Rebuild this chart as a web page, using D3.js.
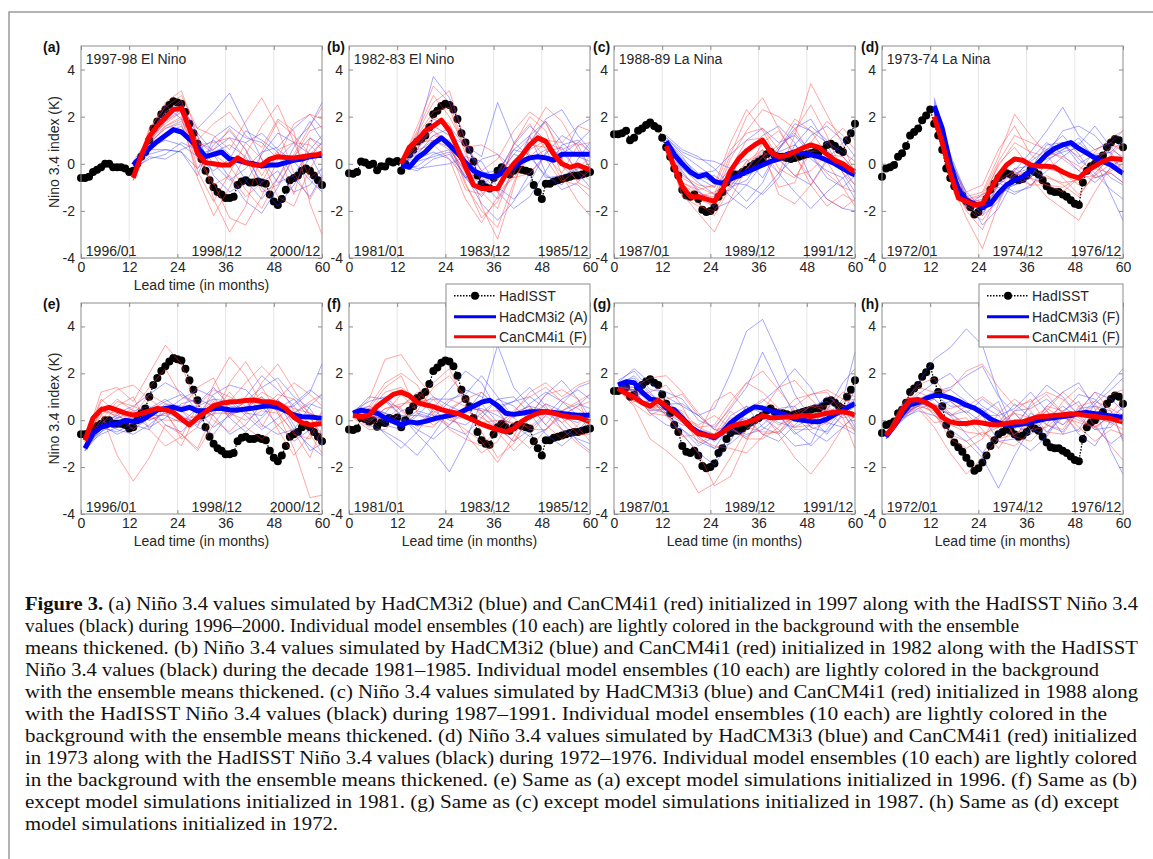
<!DOCTYPE html>
<html>
<head>
<style>
body { margin: 0; background: #fff; }
svg { display: block; font-family: "Liberation Sans", Arial, sans-serif; }
</style>
</head>
<body>
<svg width="1153" height="859"></svg>
<script src="https://d3js.org/d3.v7.min.js"></script>
<script>
// ---- data ----
var xTicks = [0, 12, 24, 36, 48, 60];
var yTicks = [-4, -2, 0, 2, 4];
var hadMonths = d3.range(0, 61);
var meanMonthsTop = [13,15,17,19,21,23,25,27,29,31,33,35,37,39,41,43,45,47,49,51,53,55,57,59,60];
var meanMonthsBottom = [1,3,5,7,9,11,13,15,17,19,21,23,25,27,29,31,33,35,37,39,41,43,45,47,49,51,53,55,57,59,60];
var ensMonthsTop = [13,17,21,25,29,33,37,41,45,49,53,57,60];
var ensMonthsBottom = [1,5,9,13,17,21,25,29,33,37,41,45,49,53,57,60];

var titles = ["1997-98 El Nino", "1982-83 El Nino", "1988-89 La Nina", "1973-74 La Nina"];
var datesCol1 = ["1996/01", "1998/12", "2000/12"];
var datesCol2 = ["1981/01", "1983/12", "1985/12"];
var datesCol3 = ["1987/01", "1989/12", "1991/12"];
var datesCol4 = ["1972/01", "1974/12", "1976/12"];

// HadISST Nino 3.4 (monthly, lead 0..60)
var hadisst1996 = [-0.6,-0.6,-0.55,-0.35,-0.25,-0.15,0.0,0.0,-0.15,-0.15,-0.15,-0.2,-0.35,-0.3,0.0,0.3,0.5,1.0,1.5,1.8,2.1,2.3,2.5,2.65,2.6,2.55,2.2,1.7,1.3,0.85,0.2,-0.3,-0.7,-1.0,-1.2,-1.3,-1.45,-1.45,-1.4,-0.9,-0.75,-0.7,-0.8,-0.8,-0.75,-0.8,-0.85,-1.3,-1.6,-1.75,-1.5,-1.1,-0.7,-0.6,-0.5,-0.3,-0.2,-0.3,-0.5,-0.7,-0.9];
var hadisst1981 = [-0.4,-0.42,-0.35,0.1,0.05,-0.05,0.0,-0.28,-0.1,-0.12,0.1,0.05,0.12,-0.3,0.0,0.4,0.6,0.95,1.05,1.2,1.55,2.1,2.25,2.45,2.55,2.5,2.3,1.9,1.3,0.9,0.6,0.1,-0.5,-0.85,-1.0,-1.05,-0.6,-0.3,-0.15,-0.3,-0.45,-0.3,-0.2,-0.25,-0.3,-0.35,-0.9,-1.2,-1.5,-0.85,-0.85,-0.75,-0.7,-0.65,-0.6,-0.55,-0.5,-0.5,-0.45,-0.4,-0.35];
var hadisst1987 = [1.25,1.25,1.3,1.4,1.0,1.1,1.4,1.5,1.65,1.75,1.6,1.5,1.1,0.7,0.3,-0.2,-0.5,-1.1,-1.35,-1.4,-1.3,-1.5,-1.95,-2.05,-2.0,-1.85,-1.4,-1.2,-0.8,-0.55,-0.45,-0.45,-0.35,-0.25,-0.1,0.0,0.1,0.2,0.4,0.5,0.35,0.3,0.3,0.25,0.2,0.25,0.3,0.35,0.4,0.45,0.5,0.5,0.6,0.8,0.85,0.75,0.6,0.5,1.0,1.3,1.7];
var hadisst1972 = [-0.55,-0.2,-0.15,-0.05,0.3,0.45,0.75,1.2,1.35,1.5,1.85,2.05,2.3,1.7,1.2,0.6,-0.2,-0.6,-0.95,-1.15,-1.35,-1.6,-1.85,-2.15,-2.05,-1.8,-1.5,-1.1,-0.85,-0.6,-0.5,-0.4,-0.45,-0.6,-0.7,-0.65,-0.5,-0.25,-0.35,-0.45,-0.7,-0.95,-1.15,-1.2,-1.2,-1.3,-1.4,-1.55,-1.7,-1.75,-0.8,-0.3,-0.1,0.0,0.2,0.35,0.7,0.9,1.05,1.0,0.7];

// ensemble means (top row: meanMonthsTop, bottom row: meanMonthsBottom)
var blueMeanA = [-0.05,0.3,0.65,0.95,1.2,1.45,1.35,1.05,0.7,0.3,0.4,0.5,0.2,0.15,0.05,0.0,-0.1,-0.05,-0.05,0.05,0.15,0.2,0.3,0.35,0.35];
var redMeanA = [-0.6,0.35,1.15,1.6,1.95,2.3,2.35,1.5,0.45,0.05,0.0,-0.05,-0.05,0.25,0.05,-0.05,-0.05,0.2,0.3,0.27,0.25,0.3,0.35,0.4,0.45];
var blueMeanB = [-0.05,-0.15,0.25,0.5,0.85,1.1,0.8,0.45,0.05,-0.3,-0.45,-0.55,-0.5,-0.3,-0.15,0.1,0.25,0.3,0.25,0.15,0.4,0.4,0.4,0.4,0.4];
var redMeanB = [0.0,0.7,1.0,1.4,1.6,1.85,1.4,0.65,-0.15,-0.9,-1.05,-1.05,-1.05,-0.45,0.0,0.35,0.8,1.1,0.95,0.4,0.0,-0.15,-0.05,-0.2,-0.25];
var blueMeanC = [0.95,0.4,0.0,-0.35,-0.55,-0.45,-0.75,-0.83,-0.65,-0.5,-0.35,-0.2,-0.05,0.1,0.2,0.4,0.5,0.45,0.38,0.3,0.15,0.0,-0.2,-0.4,-0.47];
var redMeanC = [0.75,-0.15,-0.95,-1.4,-1.4,-1.5,-1.6,-1.1,-0.3,0.2,0.55,0.8,1.0,0.5,0.3,0.35,0.5,0.67,0.8,0.7,0.4,0.15,0.0,-0.25,-0.33];
var blueMeanD = [2.45,1.5,0.0,-1.1,-1.55,-1.7,-1.83,-1.7,-1.25,-0.9,-0.7,-0.55,-0.3,0.05,0.4,0.65,0.8,0.9,0.65,0.45,0.25,0.1,-0.05,-0.3,-0.4];
var redMeanD = [2.0,0.9,-0.4,-1.45,-1.6,-1.75,-1.7,-1.1,-0.5,-0.05,0.2,0.15,-0.05,-0.1,-0.1,-0.15,-0.35,-0.5,-0.6,-0.3,-0.1,0.1,0.22,0.2,0.17];
var blueMeanE = [-1.2,-0.55,-0.3,-0.2,-0.14,0.0,-0.05,0.0,0.2,0.43,0.5,0.55,0.45,0.55,0.4,0.4,0.5,0.5,0.45,0.43,0.48,0.52,0.58,0.63,0.55,0.4,0.22,0.15,0.14,0.1,0.07];
var redMeanE = [-0.86,0.1,0.45,0.55,0.43,0.3,0.22,0.28,0.4,0.5,0.45,0.33,0.05,-0.2,0.1,0.35,0.62,0.72,0.78,0.8,0.84,0.86,0.8,0.79,0.72,0.5,0.12,-0.1,-0.2,-0.16,-0.14];
var blueMeanF = [0.29,0.43,0.36,0.3,0.1,-0.05,-0.2,-0.07,-0.12,-0.05,0.05,0.13,0.2,0.28,0.45,0.6,0.77,0.85,0.62,0.3,0.25,0.3,0.36,0.36,0.36,0.33,0.29,0.25,0.21,0.21,0.21];
var redMeanF = [0.21,0.14,0.21,0.6,0.85,1.1,1.2,1.05,0.75,0.66,0.58,0.45,0.36,0.3,0.15,0.0,-0.17,-0.29,-0.4,-0.5,-0.35,-0.05,0.15,0.3,0.36,0.3,0.2,0.14,0.12,0.0,-0.07];
var blueMeanG = [1.5,1.64,1.6,1.2,0.9,0.85,0.52,0.45,0.1,-0.28,-0.52,-0.63,-0.75,-0.5,-0.12,0.15,0.38,0.57,0.52,0.4,0.32,0.22,0.05,0.0,-0.05,-0.07,0.05,0.25,0.42,0.62,0.71];
var redMeanG = [1.36,1.15,0.98,0.75,0.6,0.85,0.6,0.35,0.05,-0.3,-0.58,-0.64,-0.7,-0.52,-0.27,-0.17,-0.1,0.02,0.2,0.1,0.12,0.14,0.15,0.2,0.16,0.22,0.3,0.35,0.36,0.28,0.21];
var blueMeanH = [-0.71,-0.25,0.25,0.66,0.75,0.93,1.05,1.05,0.95,0.82,0.64,0.52,0.3,0.05,-0.1,-0.21,-0.21,-0.16,-0.08,0.0,0.07,0.11,0.16,0.2,0.3,0.33,0.28,0.22,0.18,0.15,0.14];
var redMeanH = [-0.64,-0.25,0.4,0.85,0.88,0.75,0.55,0.12,-0.07,-0.14,-0.14,-0.08,-0.12,-0.18,-0.2,-0.14,-0.08,-0.07,0.05,0.15,0.17,0.2,0.23,0.28,0.25,0.2,0.16,0.12,0.07,-0.03,-0.07];

// individual ensemble members (10 each)
var blueEnsA = [
 [0.0,0.9,1.8,2.3,1.5,2.2,3.0,1.6,0.2,-0.8,-0.5,0.6,1.2],
 [-0.1,0.4,0.6,0.5,-0.2,0.8,1.4,0.6,-1.0,-1.8,-0.9,0.3,0.9],
 [0.1,1.1,2.2,2.6,1.2,-0.5,-1.2,-0.8,0.4,1.3,0.9,1.6,2.6],
 [-0.2,0.2,0.4,0.9,0.6,1.0,0.4,-0.7,-1.5,-0.6,0.7,1.8,1.0],
 [0.0,0.7,1.0,0.8,0.3,-0.3,0.2,1.4,1.0,0.5,-0.6,-1.4,-0.5],
 [-0.1,0.9,1.5,1.8,1.0,0.4,-0.6,-1.6,-2.1,-1.0,0.3,1.1,0.8],
 [0.1,0.5,1.3,1.6,0.4,0.6,1.1,0.9,1.3,0.6,0.1,-0.7,-1.2],
 [-0.3,0.3,0.2,0.6,0.9,0.0,-0.7,-0.2,0.5,0.7,1.5,2.1,1.5],
 [0.0,1.0,2.5,1.9,1.3,0.5,0.8,0.3,-0.8,-0.3,-1.2,-0.9,-0.2],
 [0.1,0.6,0.6,0.5,-0.5,1.1,1.6,1.1,0.9,0.2,0.9,0.4,-0.6]];
var redEnsA = [
 [-0.7,1.4,2.6,3.1,1.2,-1.5,-2.9,-1.8,0.5,1.8,1.2,0.4,0.9],
 [-0.5,0.8,1.6,2.0,-0.6,-2.2,-1.0,0.4,1.6,2.5,0.9,-0.6,-0.2],
 [-0.6,1.3,2.2,2.7,0.8,0.9,1.1,0.2,-1.2,-0.9,0.3,1.4,1.6],
 [-0.7,1.0,1.8,2.2,0.3,-0.8,-2.3,-2.6,-1.4,0.2,1.7,2.1,1.9],
 [-0.5,1.5,2.4,2.9,1.5,1.2,0.6,1.8,2.8,1.5,-0.4,-1.5,-0.6],
 [-0.6,0.9,1.5,1.7,-0.3,-1.6,-0.4,0.9,0.2,-1.4,-1.8,-0.2,0.6],
 [-0.6,1.2,2.0,2.5,0.9,0.6,1.5,0.6,-0.5,0.6,0.9,0.8,0.3],
 [-0.7,1.1,1.7,2.2,-0.2,0.4,-0.1,-1.1,-1.9,-0.6,0.4,1.6,2.4],
 [-0.5,1.3,2.1,2.4,1.0,1.7,2.2,1.2,0.7,1.9,1.4,-1.7,-3.0],
 [-0.6,1.0,1.6,1.9,0.2,-0.9,-0.5,-1.4,-0.8,0.5,-1.3,1.1,0.6]];
var blueEnsB = [
 [0.0,1.2,3.7,2.8,1.0,-0.8,-1.5,-0.3,1.2,1.8,0.9,0.3,0.1],
 [-0.1,-0.3,0.2,0.4,-0.5,-1.7,-2.4,-1.6,-0.4,0.4,1.2,0.8,-0.2],
 [0.1,0.6,1.6,1.2,0.8,0.3,2.6,0.9,0.3,-0.5,-0.9,0.2,0.9],
 [-0.2,-0.1,0.4,0.6,-0.3,-0.9,-0.4,0.8,1.6,1.0,0.2,1.6,1.9],
 [0.0,0.4,1.2,1.5,0.2,-0.6,-1.2,-1.9,-1.4,-0.3,0.8,1.0,0.5],
 [0.1,0.2,0.5,0.2,-0.6,0.2,0.4,-0.2,0.9,1.9,2.3,1.2,0.6],
 [-0.1,0.6,1.9,1.6,0.7,-0.3,-0.7,0.6,1.2,-0.4,-1.1,-0.8,-0.1],
 [0.0,-0.2,-0.1,0.0,0.3,0.1,-1.0,-1.5,-0.8,0.5,0.7,-0.4,-1.0],
 [-0.1,0.5,1.0,0.7,-0.6,-1.4,-0.5,0.4,0.2,0.6,0.4,0.9,1.4],
 [0.0,0.1,0.3,0.5,-0.6,-0.4,-0.3,0.6,0.4,-0.6,-0.5,-0.2,0.0]];
var redEnsB = [
 [0.0,1.6,3.3,2.6,0.6,-1.8,-3.2,-1.0,1.2,2.4,1.8,0.6,-0.2],
 [0.1,0.7,1.2,1.0,-0.8,-2.3,-1.6,-0.4,0.9,1.8,0.2,-0.8,-1.1],
 [-0.1,1.2,2.2,2.4,0.4,-0.7,-0.5,0.8,2.0,1.4,-0.5,-1.6,-2.2],
 [0.0,0.8,1.4,0.9,-0.9,-2.0,-2.7,-0.8,0.6,1.0,0.9,1.6,1.4],
 [0.1,1.3,2.6,3.1,0.9,-0.3,0.2,1.4,2.2,1.7,0.5,-0.3,-0.7],
 [0.0,0.9,1.0,0.6,-1.1,-1.3,-0.6,0.4,1.1,0.2,-0.8,-0.2,0.3],
 [-0.1,1.1,2.0,1.7,-0.1,-0.4,-1.2,-0.6,0.3,0.9,0.6,0.9,0.5],
 [0.0,0.6,0.8,0.2,-1.5,-2.5,-1.4,0.9,1.7,0.6,-0.7,-0.9,-1.4],
 [0.1,1.4,2.9,2.0,0.7,0.8,0.4,-0.6,-0.4,0.3,-0.4,0.8,0.9],
 [0.0,0.9,1.4,0.7,-0.4,-1.2,-1.9,-0.1,0.8,0.7,-0.1,-0.7,-0.3]];
var blueEnsC = [
 [1.2,0.6,0.3,-0.2,-0.9,-1.6,-0.8,0.6,1.5,1.9,0.8,-0.4,-1.2],
 [0.9,-0.3,-1.2,-1.6,-0.4,0.5,1.2,1.6,0.9,-0.6,-1.5,-1.9,-2.0],
 [1.1,0.4,-0.1,-0.6,-1.4,-1.9,-1.2,-0.4,0.3,1.2,1.6,1.0,0.3],
 [0.8,-0.2,-0.8,-1.3,-1.1,-0.2,0.5,0.2,-0.5,-0.9,0.2,0.9,1.6],
 [1.0,0.2,-0.4,-0.3,0.4,1.0,1.5,0.9,1.2,0.4,-0.6,-1.0,-0.5],
 [0.9,-0.4,-1.1,-1.9,-1.6,-0.9,-1.3,-0.6,0.8,1.6,1.0,0.3,-0.3],
 [1.1,0.5,0.2,0.1,-0.2,-0.5,-0.1,0.7,1.3,0.5,0.6,-0.2,-0.9],
 [0.7,-0.1,-0.6,-0.5,-1.0,-0.7,0.3,-0.4,-1.2,-1.9,-1.2,-0.6,-0.2],
 [1.0,0.3,-0.6,-1.0,-0.2,0.2,-0.6,0.6,1.7,1.4,0.9,0.5,0.1],
 [0.8,0.0,-0.5,-0.8,-0.8,-0.9,0.0,0.5,0.8,0.2,-0.3,-0.6,-1.5]];
var redEnsC = [
 [0.8,-0.6,-1.0,-1.3,0.4,2.0,2.8,1.5,0.3,-0.6,-1.5,-1.9,-1.5],
 [0.7,-1.3,-2.1,-2.9,-1.5,-0.2,0.6,-0.4,1.2,3.4,2.1,0.8,-0.4],
 [0.8,-0.8,-1.2,-1.5,0.2,1.4,2.3,2.0,1.5,0.4,-0.4,-1.0,-1.2],
 [0.6,-1.1,-1.7,-2.2,-1.0,0.1,0.4,-1.0,-0.8,0.9,1.8,1.2,0.6],
 [0.8,-0.5,-0.9,-1.0,0.6,1.3,1.5,0.6,1.4,2.5,1.2,-0.4,-0.9],
 [0.7,-1.4,-1.8,-2.0,-0.9,-0.3,0.9,1.4,0.4,-0.9,-1.8,-1.3,-1.6],
 [0.8,-0.9,-1.3,-1.4,-0.2,1.0,1.1,-0.2,-0.6,0.5,0.9,1.5,1.0],
 [0.7,-1.0,-1.5,-1.8,-0.6,-0.4,0.3,0.8,1.9,1.4,0.4,-0.2,0.4],
 [0.8,-0.8,-1.1,-0.9,0.9,2.3,1.4,0.2,-0.5,-0.3,0.4,0.3,-0.3],
 [0.7,-1.1,-1.4,-1.2,-0.8,0.1,0.6,-1.3,-1.7,-0.9,0.1,-1.0,-1.8]];
var blueEnsD = [
 [2.8,0.4,-1.3,-2.2,-1.6,-0.3,0.5,1.4,2.4,1.2,0.6,0.9,1.4],
 [2.3,-0.2,-1.9,-1.6,-0.8,-1.2,-1.0,0.1,0.6,1.1,0.2,-1.3,-2.4],
 [2.6,0.2,-1.4,-2.6,-1.9,-0.6,0.2,0.9,0.4,-0.3,-0.8,-0.2,0.3],
 [2.4,-0.1,-1.7,-1.5,-0.7,-0.9,-0.6,0.4,1.4,1.6,1.2,0.4,-0.6],
 [2.5,0.1,-1.2,-1.9,-1.5,-0.4,-0.2,0.8,0.9,0.2,-0.4,-1.1,-1.5],
 [2.2,-0.3,-1.8,-1.3,-1.0,-1.3,-0.9,-0.3,0.3,0.8,1.6,0.7,0.2],
 [2.7,0.3,-1.5,-2.1,-1.2,-0.5,0.1,0.6,1.2,0.4,-0.6,-0.4,-0.8],
 [2.4,0.0,-1.6,-1.7,-1.4,-0.8,-0.5,0.3,0.6,0.9,0.3,0.5,1.0],
 [2.5,-0.2,-1.4,-2.0,-0.9,-0.2,-0.1,0.2,0.5,0.7,0.1,-0.6,-0.9],
 [2.3,0.1,-1.7,-1.6,-1.2,-0.9,-0.6,0.6,0.9,0.0,0.4,0.5,-0.4]];
var redEnsD = [
 [2.1,-0.2,-1.4,-1.2,0.3,2.1,1.2,0.4,-0.6,-1.3,-0.5,0.4,0.9],
 [1.9,-0.7,-2.3,-3.6,-1.7,-0.2,-0.6,-1.4,-1.9,-2.4,-1.2,-0.1,-0.5],
 [2.0,-0.3,-1.5,-1.3,0.1,1.2,0.9,0.6,0.2,-0.3,0.5,1.1,1.4],
 [2.1,-0.6,-2.0,-2.8,-1.2,-0.6,-0.9,-0.5,-0.9,-1.4,-0.4,0.3,-0.2],
 [1.9,-0.4,-1.5,-1.4,-0.1,0.9,0.5,0.3,0.8,0.3,0.6,0.9,0.5],
 [2.0,-0.5,-1.8,-2.2,-0.9,-0.4,-0.6,-0.9,-1.2,-0.6,-0.2,-0.4,-0.8],
 [2.1,-0.1,-1.2,-0.9,0.6,1.6,0.4,-0.2,-0.4,-0.9,0.3,0.6,0.3],
 [1.9,-0.6,-1.9,-2.4,-1.4,-0.5,-0.3,0.5,0.3,-0.1,-0.6,-0.3,0.0],
 [2.0,-0.4,-1.5,-1.6,0.0,0.7,-0.2,-0.6,-0.8,-0.7,0.1,0.7,0.8],
 [1.9,-0.3,-1.6,-1.8,-0.7,-0.3,-0.9,-0.9,-1.0,-0.6,-0.5,0.0,0.1]];
var blueEnsE = [
 [-1.3,-0.5,0.3,0.6,1.1,1.6,1.2,0.4,-0.3,0.2,1.0,1.9,1.3,0.6,1.2,2.4],
 [-1.1,0.0,-0.4,-0.6,-0.2,0.4,0.9,1.3,1.0,0.1,-0.5,0.1,0.8,-0.4,-1.1,-1.5],
 [-1.2,-0.4,0.1,0.4,0.6,-0.2,-0.5,0.2,1.1,1.5,1.3,0.6,-0.2,-0.9,-0.4,0.3],
 [-1.3,-0.2,-0.6,-0.3,0.5,0.9,0.4,-0.3,-0.6,0.3,0.8,1.4,1.8,1.0,0.5,-0.3],
 [-1.0,-0.5,-0.1,0.2,-0.3,0.1,0.7,0.9,0.6,0.8,0.2,-0.4,0.1,0.7,1.3,0.9],
 [-1.2,-0.1,0.2,-0.2,-0.4,0.6,0.2,-0.2,0.4,0.9,0.3,0.2,0.9,-0.2,-1.3,-1.0],
 [-1.1,-0.6,-0.3,0.1,0.4,0.8,1.1,0.7,1.4,0.6,0.5,1.0,0.4,0.3,0.7,0.5],
 [-1.3,-0.3,-0.5,-0.1,0.2,0.2,-0.1,0.5,0.2,-0.6,-0.2,0.7,0.5,0.9,0.1,-0.6],
 [-1.2,-0.2,0.1,-0.4,0.1,0.7,0.6,0.6,0.9,0.8,0.9,-0.2,-0.6,-0.4,0.6,1.1],
 [-1.2,-0.2,-0.3,0.2,0.0,0.3,0.1,-0.1,0.3,0.3,0.5,0.5,0.5,0.6,-0.2,-1.1]];
var redEnsE = [
 [-0.9,1.2,1.4,0.8,2.0,3.2,2.4,0.5,0.2,1.6,2.5,1.4,0.3,-1.2,-3.3,-3.2],
 [-0.8,0.3,-1.5,-2.6,-1.6,-0.2,-0.6,-1.2,0.3,1.2,0.4,-0.3,0.9,1.6,1.1,0.6],
 [-0.9,0.8,1.3,1.5,0.9,0.4,-0.8,-0.3,1.5,2.7,1.9,0.7,0.4,-0.6,-0.8,0.2],
 [-0.8,0.4,0.2,0.5,1.4,2.2,1.0,0.7,0.0,-0.5,0.3,1.6,2.4,1.3,0.2,-0.8],
 [-0.9,-0.2,0.6,1.0,-0.4,-1.1,-0.7,0.6,1.3,1.0,0.6,1.0,-0.4,-1.5,-0.6,0.4],
 [-0.8,0.9,0.3,-0.4,0.2,0.6,0.5,1.4,1.8,0.4,-0.3,-0.8,-0.2,0.3,0.8,1.1],
 [-0.9,0.2,0.9,0.4,0.0,0.3,-0.6,-1.3,-0.2,0.8,1.6,2.3,1.6,0.4,-0.6,-1.4],
 [-0.8,0.6,0.1,0.2,1.1,0.7,0.4,0.0,0.8,0.1,0.9,0.5,1.1,0.9,0.3,0.1],
 [-0.9,0.0,0.8,0.6,0.3,-0.4,-1.1,0.4,0.6,0.3,0.0,0.4,0.3,-0.5,-1.6,-0.3],
 [-0.9,0.4,0.3,0.3,0.1,0.0,0.0,0.2,0.9,0.2,0.5,1.2,0.8,0.5,0.3,0.0]];
var blueEnsF = [
 [0.3,1.0,0.9,0.2,-0.6,-1.3,-2.2,-0.9,0.8,3.2,1.4,0.6,-0.2,0.7,1.4,1.6],
 [0.2,0.1,-0.6,-1.2,-0.5,0.5,1.3,2.1,1.6,0.4,-0.5,0.2,1.1,1.7,0.9,0.1],
 [0.4,0.8,1.0,0.4,0.6,1.0,0.6,0.3,1.2,0.5,0.8,1.4,0.6,-0.4,-0.8,-1.0],
 [0.3,-0.2,-0.5,-0.9,-1.5,-0.6,0.4,0.9,0.4,-0.3,-0.9,-0.4,0.2,0.9,1.3,0.9],
 [0.2,0.5,0.3,-0.1,0.4,0.2,-0.3,-0.6,0.1,0.9,1.0,0.3,-0.6,-1.1,-0.5,0.2],
 [0.3,0.3,-0.2,-0.4,0.2,0.9,0.9,1.1,1.9,1.0,0.1,0.7,1.2,0.8,0.2,-0.4],
 [0.4,0.6,0.3,0.1,-0.4,-0.8,-0.2,0.4,0.5,0.2,-0.2,-0.7,-0.4,0.2,0.6,1.1],
 [0.2,0.0,0.2,-0.3,0.3,0.1,0.8,1.3,1.0,0.6,0.8,1.0,0.5,-0.1,-0.9,-1.3],
 [0.3,0.4,-0.1,0.0,-0.2,0.4,0.0,-0.2,0.3,0.9,0.6,0.0,0.7,0.4,0.7,0.5],
 [0.3,0.1,0.8,0.2,0.2,0.1,0.2,0.4,0.7,-0.1,0.3,0.6,0.4,0.1,-0.1,0.4]];
var redEnsF = [
 [0.2,0.9,2.6,2.8,1.8,1.0,0.3,-0.6,-1.4,-0.9,0.3,1.2,1.6,1.0,1.5,1.7],
 [0.2,-0.3,0.3,1.1,0.4,1.4,1.9,1.0,0.2,-0.5,-1.3,-0.6,0.2,-0.4,-1.0,-1.4],
 [0.3,0.6,1.6,2.0,1.5,0.3,-0.2,0.6,0.4,-0.2,0.4,1.0,1.4,0.8,0.5,0.1],
 [0.1,-0.4,-0.4,0.4,-0.2,-0.3,0.5,0.9,1.2,0.5,-0.6,-1.2,-0.4,0.4,0.8,1.1],
 [0.2,0.4,1.2,1.4,0.9,1.6,2.2,0.7,-0.5,-1.6,-1.0,0.2,0.7,0.1,-0.6,-0.6],
 [0.3,0.2,0.0,0.6,1.2,0.6,-0.4,-0.8,-1.1,-0.4,0.3,0.6,-0.2,-0.8,-0.2,0.4],
 [0.2,0.5,1.4,1.9,0.3,-0.2,0.2,0.4,0.1,-0.3,-0.9,0.2,1.1,1.3,0.9,-0.3],
 [0.2,-0.1,0.5,0.7,0.8,0.9,0.1,-0.4,-0.9,-1.8,-0.7,0.5,0.3,0.2,0.6,0.8],
 [0.2,0.3,0.8,0.5,-0.3,0.3,0.9,0.6,0.4,0.4,0.1,-0.4,-0.4,0.3,-0.3,-0.9],
 [0.3,0.0,0.5,0.6,1.1,0.2,0.1,0.1,-0.1,0.0,-0.1,-0.3,0.3,-0.1,0.3,-0.3]];
var blueEnsG = [
 [1.6,2.2,1.6,1.0,0.6,0.2,0.5,2.0,3.8,4.3,2.8,1.1,0.1,-0.6,0.3,1.3],
 [1.5,1.9,1.2,0.4,-0.6,-1.4,-1.9,-0.9,0.4,0.8,1.4,2.2,1.4,0.2,0.9,2.9],
 [1.4,1.3,0.3,-0.2,-0.4,-0.9,-1.2,-1.0,-0.4,0.1,-0.4,-1.1,-1.0,0.4,1.6,2.2],
 [1.7,2.1,1.3,1.2,0.9,0.0,-0.3,0.5,1.4,2.9,1.5,0.2,-0.5,-0.9,-0.3,0.2],
 [1.5,1.4,0.7,0.8,0.3,-0.7,-1.2,-0.2,0.1,-0.6,-0.9,-0.2,0.4,1.0,0.6,-0.3],
 [1.4,1.6,1.0,0.3,-0.4,-1.1,-0.7,-0.4,-0.7,-0.2,0.5,0.6,-0.3,-0.5,0.2,0.6],
 [1.6,1.8,1.1,0.7,0.7,0.2,-0.4,-0.6,0.4,0.6,0.2,-0.5,-1.1,-0.4,0.5,0.9],
 [1.5,1.2,0.5,0.3,-0.1,-0.6,-0.8,0.2,0.6,-0.3,-0.6,0.1,0.6,0.8,0.3,-0.4],
 [1.4,1.3,0.4,0.5,0.2,-0.5,-0.9,-0.4,-0.6,-0.4,0.2,-0.6,-0.2,0.2,0.4,0.1],
 [1.6,1.2,0.9,0.2,-0.2,-0.4,-0.6,-0.4,0.6,0.3,-0.1,-0.3,0.1,-0.1,-0.3,-0.6]];
var redEnsG = [
 [1.4,1.4,1.8,1.9,1.2,0.3,-0.4,0.6,1.6,2.1,1.3,0.4,-0.3,0.5,1.2,1.0],
 [1.3,0.6,-0.8,-1.3,-1.9,-3.1,-2.7,-1.6,-0.4,0.3,-0.6,-1.6,-2.3,-1.4,-0.3,0.2],
 [1.4,1.1,1.2,1.5,0.6,-0.8,-1.1,-1.2,-1.4,-0.7,0.2,0.9,1.1,1.3,0.9,0.6],
 [1.3,0.7,0.2,0.6,0.4,-0.3,-0.2,0.8,1.6,1.2,0.5,-0.3,-0.2,0.5,0.1,-1.2],
 [1.4,1.3,0.9,0.2,-0.6,-1.4,-2.8,-2.4,-0.9,0.4,1.4,1.7,0.9,0.2,0.6,0.7],
 [1.3,0.9,0.4,0.9,1.1,0.2,-0.4,-0.3,-0.8,-0.8,-0.3,0.6,1.1,1.2,0.3,-0.5],
 [1.4,1.0,0.6,0.3,-0.7,-0.6,0.8,1.2,0.4,0.9,0.4,-0.4,-0.4,-0.1,0.8,0.9],
 [1.3,0.8,0.6,0.5,0.2,-1.0,-0.6,0.1,0.0,-0.6,-0.5,0.1,0.6,0.4,-0.2,-0.4],
 [1.4,1.2,0.3,0.2,0.1,-0.2,0.2,-0.3,-0.8,0.3,-0.2,0.1,0.3,-0.2,0.5,0.6],
 [1.4,0.8,0.8,0.4,0.1,-0.3,-0.6,0.4,-0.3,-0.5,-0.5,0.3,0.6,0.6,0.1,0.2]];
var blueEnsH = [
 [-0.7,0.6,1.6,2.6,3.1,3.9,3.2,1.1,-0.4,0.7,1.5,1.0,0.2,0.8,1.6,2.2],
 [-0.8,0.1,0.4,0.2,-0.4,-0.9,-1.6,-2.9,-1.5,-0.3,0.6,1.2,1.6,0.5,-1.3,-2.3],
 [-0.6,0.4,1.1,1.6,2.0,1.2,0.6,0.2,0.5,1.2,0.4,-0.6,-0.4,0.7,1.3,1.8],
 [-0.7,0.2,0.6,0.9,0.3,-0.2,0.3,0.8,-0.8,-1.3,-0.7,0.3,1.1,0.9,0.2,-0.2],
 [-0.8,0.3,0.9,1.2,1.4,1.9,2.3,1.0,0.3,-0.4,-0.6,0.4,0.8,-0.3,-1.0,-0.6],
 [-0.7,0.0,0.5,0.7,0.2,-0.6,-1.4,-0.5,0.4,0.5,0.9,0.3,-0.6,-1.1,0.0,0.6],
 [-0.6,0.5,0.8,1.0,1.3,0.8,0.2,-0.9,-0.8,0.3,-0.2,-0.5,0.4,1.2,0.9,0.4],
 [-0.7,0.1,0.7,0.6,0.8,0.3,0.9,0.4,-0.2,-0.6,0.1,0.6,0.1,-0.4,-0.3,0.3],
 [-0.8,0.3,0.6,1.1,0.6,0.6,0.5,-0.1,-0.3,-0.1,0.2,-0.2,0.5,0.6,0.4,-0.9],
 [-0.7,0.0,0.8,0.6,0.2,0.4,-0.1,-0.1,0.7,0.1,-0.5,0.1,0.4,0.1,-0.1,0.1]];
var redEnsH = [
 [-0.6,0.6,1.4,1.2,1.3,2.1,2.4,1.4,0.6,0.8,1.2,0.9,0.2,-0.4,0.3,0.9],
 [-0.7,0.2,0.5,-0.3,-1.4,-2.3,-1.6,-0.8,-0.6,-0.2,0.4,1.2,0.6,-0.2,-1.1,-1.7],
 [-0.6,0.7,1.5,1.8,0.8,0.3,-0.4,-1.2,-0.2,0.6,1.1,0.3,-0.5,0.4,1.1,1.3],
 [-0.7,0.3,0.7,0.3,-0.8,-1.2,-0.8,0.3,0.9,0.4,-0.5,-0.6,0.4,1.2,0.4,-0.8],
 [-0.6,0.5,1.2,0.9,0.2,0.6,1.0,0.5,-0.7,-0.9,-0.2,0.8,1.4,0.7,-0.2,0.3],
 [-0.7,0.1,0.6,0.4,-0.6,-0.9,-0.5,-0.9,-1.1,-0.5,0.6,0.4,-0.3,-0.9,-0.4,-0.6],
 [-0.6,0.4,0.9,0.6,0.5,0.7,0.3,-0.2,0.4,0.9,-0.2,-0.4,0.6,0.8,0.5,0.2],
 [-0.7,0.6,1.0,0.2,-0.2,-0.5,-0.6,-0.3,0.3,-0.4,-0.3,0.3,0.0,-0.3,0.2,0.5],
 [-0.6,0.3,0.8,0.5,0.3,-0.3,0.2,0.2,-0.6,-0.1,0.4,-0.2,0.3,0.6,-0.1,-0.4],
 [-0.7,0.3,0.6,-0.1,0.0,0.1,-0.7,-0.1,0.3,0.1,0.5,0.1,-0.1,-0.3,0.2,-0.2]];

var legendF = ["HadISST", "HadCM3i2 (A)", "CanCM4i1 (F)"];
var legendH = ["HadISST", "HadCM3i3 (F)", "CanCM4i1 (F)"];

var captionLines = [
 "(a) Niño 3.4 values simulated by HadCM3i2 (blue) and CanCM4i1 (red) initialized in 1997 along with the HadISST Niño 3.4",
 "values (black) during 1996–2000. Individual model ensembles (10 each) are lightly colored in the background with the ensemble",
 "means thickened. (b) Niño 3.4 values simulated by HadCM3i2 (blue) and CanCM4i1 (red) initialized in 1982 along with the HadISST",
 "Niño 3.4 values (black) during the decade 1981–1985. Individual model ensembles (10 each) are lightly colored in the background",
 "with the ensemble means thickened. (c) Niño 3.4 values simulated by HadCM3i3 (blue) and CanCM4i1 (red) initialized in 1988 along",
 "with the HadISST Niño 3.4 values (black) during 1987–1991. Individual model ensembles (10 each) are lightly colored in the",
 "background with the ensemble means thickened. (d) Niño 3.4 values simulated by HadCM3i3 (blue) and CanCM4i1 (red) initialized",
 "in 1973 along with the HadISST Niño 3.4 values (black) during 1972–1976. Individual model ensembles (10 each) are lightly colored",
 "in the background with the ensemble means thickened. (e) Same as (a) except model simulations initialized in 1996. (f) Same as (b)",
 "except model simulations initialized in 1981. (g) Same as (c) except model simulations initialized in 1987. (h) Same as (d) except",
 "model simulations initialized in 1972."];
var captionWidths = [1113, 994, 1113, 1074, 1113, 1082, 1112, 1112, 1112, 1094, 313];

// ---- layout ----
var colX = [81, 349, 614, 882], plotW = 241;
var rowTop = [46, 303], rowH = [212, 211];
var tagX = [43, 327, 593, 861];
var axisColor = "#8c8c8c", textColor = "#262626";
var fs = "14px";

var panels = [
 {tag:"(a)", col:0, row:0, title:titles[0], dates:datesCol1, had:hadisst1996, blue:blueMeanA, red:redMeanA, blueEns:blueEnsA, redEns:redEnsA, ylab:true, xlab:true},
 {tag:"(b)", col:1, row:0, title:titles[1], dates:datesCol2, had:hadisst1981, blue:blueMeanB, red:redMeanB, blueEns:blueEnsB, redEns:redEnsB},
 {tag:"(c)", col:2, row:0, title:titles[2], dates:datesCol3, had:hadisst1987, blue:blueMeanC, red:redMeanC, blueEns:blueEnsC, redEns:redEnsC},
 {tag:"(d)", col:3, row:0, title:titles[3], dates:datesCol4, had:hadisst1972, blue:blueMeanD, red:redMeanD, blueEns:blueEnsD, redEns:redEnsD},
 {tag:"(e)", col:0, row:1, dates:datesCol1, had:hadisst1996, blue:blueMeanE, red:redMeanE, blueEns:blueEnsE, redEns:redEnsE, ylab:true, xlab:true},
 {tag:"(f)", col:1, row:1, dates:datesCol2, had:hadisst1981, blue:blueMeanF, red:redMeanF, blueEns:blueEnsF, redEns:redEnsF, xlab:true, legend:legendF},
 {tag:"(g)", col:2, row:1, dates:datesCol3, had:hadisst1987, blue:blueMeanG, red:redMeanG, blueEns:blueEnsG, redEns:redEnsG, xlab:true},
 {tag:"(h)", col:3, row:1, dates:datesCol4, had:hadisst1972, blue:blueMeanH, red:redMeanH, blueEns:blueEnsH, redEns:redEnsH, xlab:true, legend:legendH}
];

var svg = d3.select("svg");
svg.append("rect").attr("width", 1153).attr("height", 859).attr("fill", "#fff");

// outer frame (cropped)
svg.append("path").attr("d", "M9,859V12H1153").attr("fill", "none")
  .attr("stroke", "#9a9a9a").attr("stroke-width", 1.5);

function pairs(ms, vs) {
  var n = Math.min(ms.length, vs.length), out = [];
  for (var i = 0; i < n; i++) out.push([ms[i], vs[i]]);
  return out;
}

panels.forEach(function (p) {
  var left = colX[p.col], top = rowTop[p.row], h = rowH[p.row];
  var x = d3.scaleLinear().domain([0, 60]).range([left, left + plotW]);
  var y = d3.scaleLinear().domain([-4, 5]).range([top + h, top]);
  var mMean = p.row === 0 ? meanMonthsTop : meanMonthsBottom;
  var mEns = p.row === 0 ? ensMonthsTop : ensMonthsBottom;
  var line = d3.line().x(function (d) { return x(d[0]); }).y(function (d) { return y(d[1]); });
  var g = svg.append("g");

  // vertical grid
  g.append("g").selectAll("line").data(xTicks.slice(1, -1)).join("line")
    .attr("x1", function (d) { return x(d); }).attr("x2", function (d) { return x(d); })
    .attr("y1", top).attr("y2", top + h)
    .attr("stroke", "#e6e6e6").attr("stroke-width", 1);

  // HadISST
  var had = pairs(hadMonths, p.had);
  g.append("path").attr("d", line(had)).attr("fill", "none")
    .attr("stroke", "#000").attr("stroke-width", 1.3).attr("stroke-dasharray", "1.5,1.5");
  g.append("g").selectAll("circle").data(had).join("circle")
    .attr("cx", function (d) { return x(d[0]); }).attr("cy", function (d) { return y(d[1]); })
    .attr("r", 4).attr("fill", "#000");

  // ensemble members
  p.blueEns.forEach(function (m) {
    g.append("path").attr("d", line(pairs(mEns, m))).attr("fill", "none")
      .attr("stroke", "#3a3aff").attr("stroke-opacity", 0.45).attr("stroke-width", 1);
  });
  p.redEns.forEach(function (m) {
    g.append("path").attr("d", line(pairs(mEns, m))).attr("fill", "none")
      .attr("stroke", "#ff3a3a").attr("stroke-opacity", 0.45).attr("stroke-width", 1);
  });

  // ensemble means
  g.append("path").attr("d", line(pairs(mMean, p.blue))).attr("fill", "none")
    .attr("stroke", "#0000ff").attr("stroke-width", 5).attr("stroke-linejoin", "round");
  g.append("path").attr("d", line(pairs(mMean, p.red))).attr("fill", "none")
    .attr("stroke", "#ff0000").attr("stroke-width", 5).attr("stroke-linejoin", "round");

  // axes box
  g.append("rect").attr("x", left).attr("y", top).attr("width", plotW).attr("height", h)
    .attr("fill", "none").attr("stroke", axisColor).attr("stroke-width", 1);

  function styleAxis(sel) {
    sel.select(".domain").remove();
    sel.selectAll(".tick line").attr("stroke", axisColor);
    sel.selectAll(".tick text").attr("fill", textColor).attr("font-size", fs)
      .attr("font-family", "Liberation Sans, Arial, sans-serif");
  }
  g.append("g").attr("transform", "translate(0," + (top + h) + ")")
    .call(d3.axisBottom(x).tickValues(xTicks).tickSizeInner(-4).tickSizeOuter(0).tickPadding(4)
      .tickFormat(function (d) { return String(d); }))
    .call(styleAxis);
  g.append("g").attr("transform", "translate(0," + top + ")")
    .call(d3.axisTop(x).tickValues(xTicks).tickSizeInner(-4).tickSizeOuter(0).tickFormat(""))
    .call(styleAxis);
  g.append("g").attr("transform", "translate(" + left + ",0)")
    .call(d3.axisLeft(y).tickValues(yTicks).tickSizeInner(-4).tickSizeOuter(0).tickPadding(6)
      .tickFormat(function (d) { return String(d); }))
    .call(styleAxis);
  g.append("g").attr("transform", "translate(" + (left + plotW) + ",0)")
    .call(d3.axisRight(y).tickValues(yTicks).tickSizeInner(-4).tickSizeOuter(0).tickFormat(""))
    .call(styleAxis);

  // texts inside
  if (p.title) {
    g.append("text").attr("x", x(1.2)).attr("y", top + 17.5)
      .attr("font-size", fs).attr("fill", textColor).text(p.title);
  }
  var dy = top + h - 2.5;
  g.append("text").attr("x", x(1.2)).attr("y", dy).attr("font-size", fs).attr("fill", textColor).text(p.dates[0]);
  g.append("text").attr("x", x(27.5)).attr("y", dy).attr("font-size", fs).attr("fill", textColor).text(p.dates[1]);
  g.append("text").attr("x", x(59.6)).attr("y", dy).attr("text-anchor", "end").attr("font-size", fs).attr("fill", textColor).text(p.dates[2]);

  // panel tag
  g.append("text").attr("x", tagX[p.col]).attr("y", top + 5.5).attr("font-size", fs)
    .attr("font-weight", "bold").attr("fill", "#111").text(p.tag);

  if (p.xlab) {
    g.append("text").attr("x", left + plotW / 2).attr("y", top + h + 32)
      .attr("text-anchor", "middle").attr("font-size", fs).attr("fill", textColor)
      .text("Lead time (in months)");
  }
  if (p.ylab) {
    g.append("text").attr("transform", "translate(59," + (top + h / 2) + ") rotate(-90)")
      .attr("text-anchor", "middle").attr("font-size", fs).attr("fill", textColor)
      .text("Nino 3.4 index (K)");
  }

  // legend
  if (p.legend) {
    var lx = left + plotW - 144, ly = 284;
    var lg = svg.append("g");
    lg.append("rect").attr("x", lx).attr("y", ly).attr("width", 144).attr("height", 63)
      .attr("fill", "#fff").attr("stroke", axisColor).attr("stroke-width", 1);
    var rows = [ly + 11.7, ly + 32.7, ly + 52.7];
    lg.append("line").attr("x1", lx + 8).attr("x2", lx + 50).attr("y1", rows[0]).attr("y2", rows[0])
      .attr("stroke", "#000").attr("stroke-width", 1.5).attr("stroke-dasharray", "1.5,1.5");
    lg.append("circle").attr("cx", lx + 29).attr("cy", rows[0]).attr("r", 4).attr("fill", "#000");
    lg.append("line").attr("x1", lx + 8).attr("x2", lx + 50).attr("y1", rows[1]).attr("y2", rows[1])
      .attr("stroke", "#0000ff").attr("stroke-width", 3);
    lg.append("line").attr("x1", lx + 8).attr("x2", lx + 50).attr("y1", rows[2]).attr("y2", rows[2])
      .attr("stroke", "#ff0000").attr("stroke-width", 3);
    p.legend.forEach(function (t, i) {
      lg.append("text").attr("x", lx + 53).attr("y", rows[i] + 5)
        .attr("font-size", fs).attr("fill", textColor).text(t);
    });
  }
});

// caption
var cap = svg.append("g").attr("font-family", "Liberation Serif, 'Times New Roman', serif")
  .attr("font-size", "19.5px").attr("fill", "#111");
captionLines.forEach(function (t, i) {
  var tx = cap.append("text").attr("x", 25).attr("y", 610 + i * 22)
    .attr("textLength", captionWidths[i]).attr("lengthAdjust", "spacingAndGlyphs");
  if (i === 0) {
    tx.append("tspan").attr("font-weight", "bold").text("Figure 3. ");
  }
  tx.append("tspan").text(t);
});
</script>
</body>
</html>
